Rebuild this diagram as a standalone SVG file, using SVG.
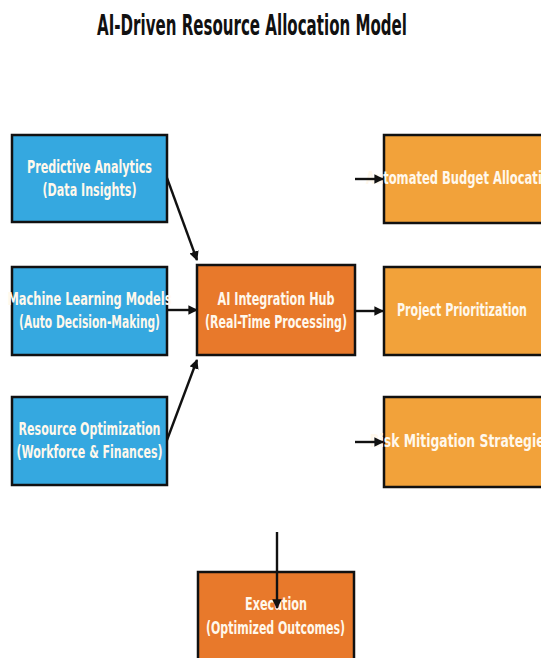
<svg xmlns="http://www.w3.org/2000/svg" width="541" height="658" viewBox="0 0 541 658">
<defs>
<style>
.t{font-family:"DejaVu Sans","Liberation Sans",sans-serif;font-weight:bold;font-size:18px;fill:#fff8ec;text-anchor:middle;}
.title{font-family:"DejaVu Sans","Liberation Sans",sans-serif;font-weight:bold;font-size:28px;fill:#111;text-anchor:middle;}
.box{stroke:#111;stroke-width:2.5;}
.blue{fill:#35a8e0;}
.dark{fill:#e8792b;}
.light{fill:#f2a23a;}
.c{stroke:#111;stroke-width:2.4;fill:none;marker-end:url(#ah);}
</style>
<marker id="ah" viewBox="0 0 10 10" refX="9" refY="5" markerWidth="4" markerHeight="4" orient="auto" markerUnits="strokeWidth">
<path d="M0,0 L10,5 L0,10 z" fill="#111"/>
</marker>
</defs>
<rect width="541" height="658" fill="#ffffff"/>
<text class="title" x="252" y="35" textLength="310" lengthAdjust="spacingAndGlyphs">AI-Driven Resource Allocation Model</text>

<g id="predictive">
<rect class="box blue" x="12" y="135" width="155" height="87"/>
<text class="t" x="89.5" y="173" textLength="125" lengthAdjust="spacingAndGlyphs">Predictive Analytics</text>
<text class="t" x="89.5" y="196" textLength="94" lengthAdjust="spacingAndGlyphs">(Data Insights)</text>
</g>
<g id="ml">
<rect class="box blue" x="12" y="267" width="155" height="88"/>
<text class="t" x="89.5" y="305" textLength="164" lengthAdjust="spacingAndGlyphs">Machine Learning Models</text>
<text class="t" x="89.5" y="328" textLength="141" lengthAdjust="spacingAndGlyphs">(Auto Decision-Making)</text>
</g>
<g id="resource">
<rect class="box blue" x="12" y="397" width="155" height="88"/>
<text class="t" x="89.5" y="435" textLength="142" lengthAdjust="spacingAndGlyphs">Resource Optimization</text>
<text class="t" x="89.5" y="458" textLength="146" lengthAdjust="spacingAndGlyphs">(Workforce &amp; Finances)</text>
</g>
<g id="hub">
<rect class="box dark" x="197" y="265" width="158" height="90"/>
<text class="t" x="276" y="305" textLength="117" lengthAdjust="spacingAndGlyphs">AI Integration Hub</text>
<text class="t" x="276" y="328" textLength="142" lengthAdjust="spacingAndGlyphs">(Real-Time Processing)</text>
</g>
<g id="budget">
<rect class="box light" x="384" y="135" width="162" height="88"/>
<text class="t" x="462" y="184" textLength="192" lengthAdjust="spacingAndGlyphs">Automated Budget Allocation</text>
</g>
<g id="priority">
<rect class="box light" x="384" y="267" width="162" height="88"/>
<text class="t" x="462" y="316" textLength="130" lengthAdjust="spacingAndGlyphs">Project Prioritization</text>
</g>
<g id="risk">
<rect class="box light" x="384" y="397" width="162" height="90"/>
<text class="t" x="461" y="447" textLength="182" lengthAdjust="spacingAndGlyphs">Risk Mitigation Strategies</text>
</g>
<g id="execution">
<rect class="box dark" x="198" y="572" width="156" height="92"/>
<text class="t" x="276" y="610" textLength="62" lengthAdjust="spacingAndGlyphs">Execution</text>
<text class="t" x="275.5" y="634" textLength="139" lengthAdjust="spacingAndGlyphs">(Optimized Outcomes)</text>
</g>

<g id="connectors">
<line class="c" x1="167" y1="178" x2="197" y2="260"/>
<line class="c" x1="167" y1="310" x2="197" y2="310"/>
<line class="c" x1="167" y1="440" x2="197" y2="360"/>
<line class="c" x1="355" y1="179" x2="383" y2="179"/>
<line class="c" x1="355" y1="311" x2="383" y2="311"/>
<line class="c" x1="355" y1="442" x2="383" y2="442"/>
<line class="c" x1="277" y1="532" x2="277" y2="608"/>
</g>
</svg>
